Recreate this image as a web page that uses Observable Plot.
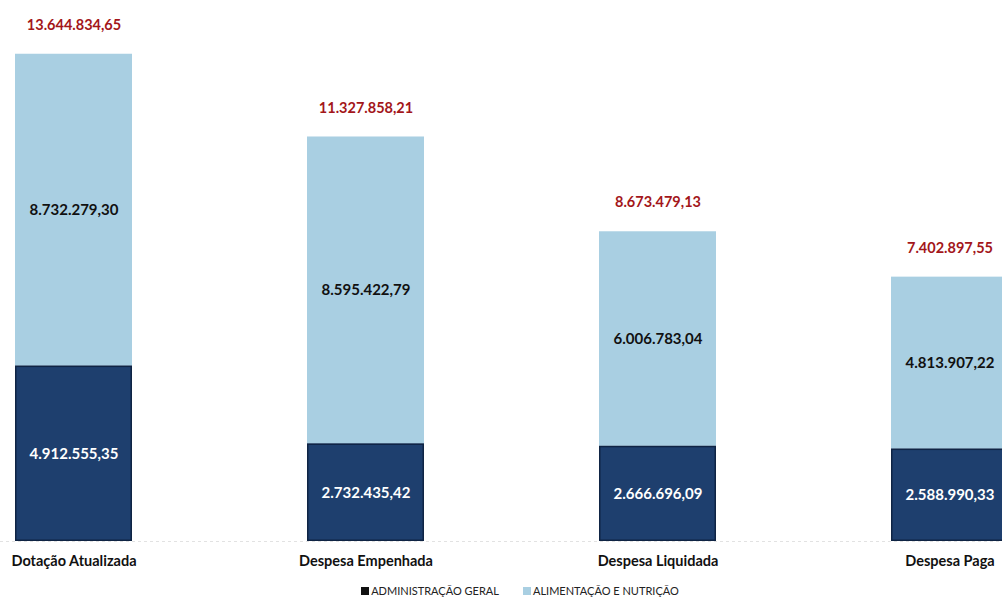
<!DOCTYPE html>
<html>
<head>
<meta charset="utf-8">
<script src="https://cdn.jsdelivr.net/npm/d3@7"></script>
<script src="https://cdn.jsdelivr.net/npm/@observablehq/plot@0.6"></script>
<style>
  html, body { margin: 0; padding: 0; background: #ffffff; }
  body { width: 1002px; height: 598px; overflow: hidden; font-family: Lato, "Open Sans", sans-serif; }
  #legend { display: flex; justify-content: center; gap: 24px; padding-left: 38px; font-size: 11px; line-height: 13px; color: #222; font-family: Lato, sans-serif; }
  #legend span.item { display: inline-flex; align-items: center; gap: 2px; }
  #legend span.sw { display: inline-block; width: 8px; height: 8px; }
</style>
</head>
<body>
<div id="chart"></div>
<div id="legend"></div>
<script>
const categories = ["Dotação Atualizada", "Despesa Empenhada", "Despesa Liquidada", "Despesa Paga"];
const seriesNames = ["ADMINISTRAÇÃO GERAL", "ALIMENTAÇÃO E NUTRIÇÃO"];
const adminGeral = [4912555.35, 2732435.42, 2666696.09, 2588990.33];
const alimentacao = [8732279.30, 8595422.79, 6006783.04, 4813907.22];
const totals = [13644834.65, 11327858.21, 8673479.13, 7402897.55];
const colors = ["#1e3f6e", "#a9cfe2"];

const locale = d3.formatLocale({decimal: ",", thousands: ".", grouping: [3], currency: ["R$", ""]});
const fmt = locale.format(",.2f");

const table = [];
categories.forEach((c, i) => {
  table.push({cat: c, series: seriesNames[0], value: adminGeral[i]});
  table.push({cat: c, series: seriesNames[1], value: alimentacao[i]});
});
const totalTable = categories.map((c, i) => ({cat: c, total: totals[i]}));

const plot = Plot.plot({
  width: 1002,
  height: 584,
  marginLeft: 0,
  marginRight: 0,
  marginTop: 0,
  marginBottom: 43,
  style: {fontFamily: "Lato, sans-serif", background: "#ffffff"},
  x: {domain: categories, range: [-162, 1184], padding: 0.6, label: null},
  y: {domain: [0, 15150000], axis: null},
  color: {domain: seriesNames, range: colors},
  marks: [
    Plot.ruleY([0], {stroke: "#e2e2e2", strokeDasharray: "3,3"}),
    Plot.barY(table, Plot.stackY({x: "cat", y: "value", z: "series", fill: "series"})),
    Plot.barY(table, Plot.stackY({x: "cat", y: "value", z: "series", stroke: d => d.series === seriesNames[0] ? "#0f2444" : "none", fill: "none", strokeWidth: 1.5, inset: 0.75})),
    Plot.text(table, Plot.stackY({x: "cat", y: "value", z: "series", text: d => fmt(d.value), fill: d => d.series === seriesNames[0] ? "#ffffff" : "#111111", fontWeight: "bold", fontSize: 15})),
    Plot.text(totalTable, {x: "cat", y: "total", text: d => fmt(d.total), dy: -29, fill: "#a3161a", fontWeight: "bold", fontSize: 14.5}),
    Plot.axisX({tickSize: 0, tickPadding: 14, fontSize: 14.5, fontWeight: "bold", fill: "#111", label: null})
  ]
});
document.getElementById("chart").appendChild(plot);

const legend = document.getElementById("legend");
seriesNames.forEach((s, i) => {
  const item = document.createElement("span");
  item.className = "item";
  const sw = document.createElement("span");
  sw.className = "sw";
  sw.style.background = i === 0 ? "#111" : colors[1];
  item.appendChild(sw);
  item.appendChild(document.createTextNode(s));
  legend.appendChild(item);
});
</script>
</body>
</html>
